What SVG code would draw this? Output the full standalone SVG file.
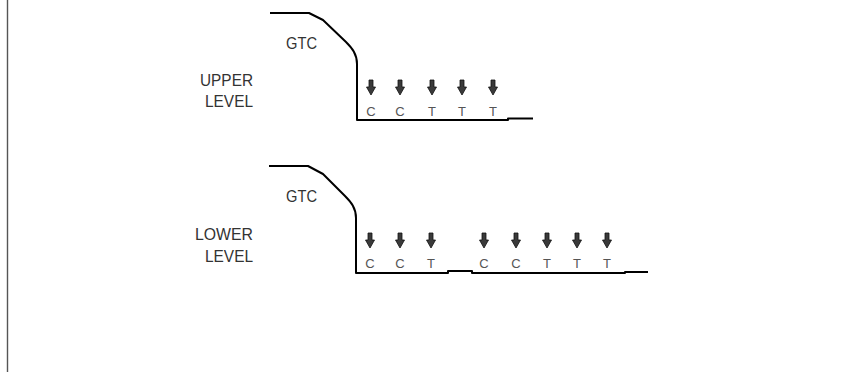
<svg xmlns="http://www.w3.org/2000/svg" width="867" height="372" viewBox="0 0 867 372">
<style>
.prof{fill:none;stroke:#000;stroke-width:2;stroke-linejoin:round}
.lbl{font-family:"Liberation Sans",Arial,sans-serif;font-size:17px;fill:#333}
.base{font-family:"Liberation Sans",Arial,sans-serif;font-size:13px;fill:#555;text-anchor:middle}
.arr{fill:#3a3a3a;stroke:#111;stroke-width:0.8}
</style>
<defs>
<path id="ar" class="arr" d="M-2,0 H2 V7 H4.5 L0,15 L-4.5,7 H-2 Z"/>
</defs>
<rect width="867" height="372" fill="#fff"/>
<line x1="7.5" y1="0" x2="7.5" y2="372" stroke="#555" stroke-width="1.4"/>

<g id="upper">
<path class="prof" d="M270,13 H309 L323,20 L346,42 C352,48 357,54 357,64 V120 H508 V118.5 H533"/>
<text class="lbl" x="286" y="49" textLength="31" lengthAdjust="spacingAndGlyphs">GTC</text>
<text class="lbl" x="200" y="86" textLength="53" lengthAdjust="spacingAndGlyphs">UPPER</text>
<text class="lbl" x="205" y="107" textLength="48" lengthAdjust="spacingAndGlyphs">LEVEL</text>
<use href="#ar" x="371" y="80"/>
<use href="#ar" x="400" y="80"/>
<use href="#ar" x="432" y="80"/>
<use href="#ar" x="462" y="80"/>
<use href="#ar" x="493" y="80"/>
<text class="base" x="371" y="116">C</text>
<text class="base" x="400" y="116">C</text>
<text class="base" x="432" y="116">T</text>
<text class="base" x="462" y="116">T</text>
<text class="base" x="493" y="116">T</text>
</g>

<g id="lower">
<path class="prof" d="M269,166 H308 L323,174 L345,196 C351,202 356,208 356,218 V273 H448 V271 H472 V273 H625 V272 H648"/>
<text class="lbl" x="286" y="202" textLength="31" lengthAdjust="spacingAndGlyphs">GTC</text>
<text class="lbl" x="195" y="240" textLength="58" lengthAdjust="spacingAndGlyphs">LOWER</text>
<text class="lbl" x="205" y="262" textLength="48" lengthAdjust="spacingAndGlyphs">LEVEL</text>
<use href="#ar" x="370" y="233"/>
<use href="#ar" x="400" y="233"/>
<use href="#ar" x="431" y="233"/>
<use href="#ar" x="484" y="233"/>
<use href="#ar" x="516" y="233"/>
<use href="#ar" x="547" y="233"/>
<use href="#ar" x="577" y="233"/>
<use href="#ar" x="607" y="233"/>
<text class="base" x="370" y="268">C</text>
<text class="base" x="400" y="268">C</text>
<text class="base" x="431" y="268">T</text>
<text class="base" x="484" y="268">C</text>
<text class="base" x="516" y="268">C</text>
<text class="base" x="547" y="268">T</text>
<text class="base" x="577" y="268">T</text>
<text class="base" x="607" y="268">T</text>
</g>
</svg>
